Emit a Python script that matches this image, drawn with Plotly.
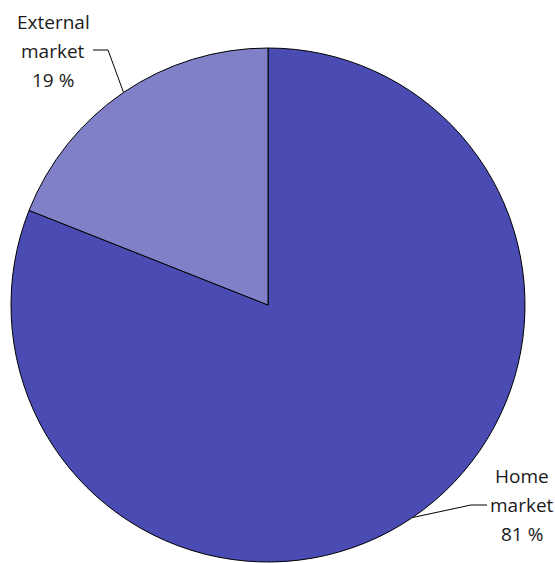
import math
import plotly.graph_objects as go

# Market split
labels = ["Home market", "External market"]
values = [81, 19]
colors = ["#4a4cb4", "#8080c8"]

W, H = 555, 563
cx, cy, r = 268, 305, 257  # pie centre and radius in pixels


def px(x):
    return x / W


def py(y):
    return 1 - y / H


fig = go.Figure(
    go.Pie(
        labels=labels,
        values=values,
        sort=False,
        direction="clockwise",
        rotation=0,
        marker=dict(colors=colors, line=dict(color="#000000", width=1)),
        textinfo="none",
        hoverinfo="label+percent",
        showlegend=False,
        domain=dict(x=[px(cx - r), px(cx + r)], y=[py(cy + r), py(cy - r)]),
    )
)

# Slice mid-angles (clockwise from 12 o'clock) for the leader lines
total = sum(values)
mids = []
acc = 0
for v in values:
    mids.append((acc + v / 2) / total * 2 * math.pi)
    acc += v

# label placement: (elbow x, elbow y, line end x, text centre x, first line y)
label_pos = {
    "Home market": (471, 505, 487, 522, 476),
    "External market": (108, 50, 93, 53, 22),
}
line_gap = 29

shapes = []
annotations = []
for lab, v, a in zip(labels, values, mids):
    ex, ey = cx + r * math.sin(a), cy - r * math.cos(a)
    bx, by, tx, lx, ly = label_pos[lab]
    shapes.append(dict(type="line", xref="paper", yref="paper",
                       x0=px(ex), y0=py(ey), x1=px(bx), y1=py(by),
                       line=dict(color="#000000", width=1)))
    shapes.append(dict(type="line", xref="paper", yref="paper",
                       x0=px(bx), y0=py(by), x1=px(tx), y1=py(by),
                       line=dict(color="#000000", width=1)))
    first, second = lab.split(" ")
    for i, line in enumerate([first, second, f"{v} %"]):
        annotations.append(dict(
            xref="paper", yref="paper", x=px(lx), y=py(ly + i * line_gap),
            text=line, showarrow=False,
            xanchor="center", yanchor="middle", align="center",
            font=dict(family="Open Sans", size=19, color="#1a1a1a"),
        ))

fig.update_layout(
    width=W, height=H,
    margin=dict(l=0, r=0, t=0, b=0),
    paper_bgcolor="white", plot_bgcolor="white",
    shapes=shapes, annotations=annotations,
)

fig.write_html("out.html")
